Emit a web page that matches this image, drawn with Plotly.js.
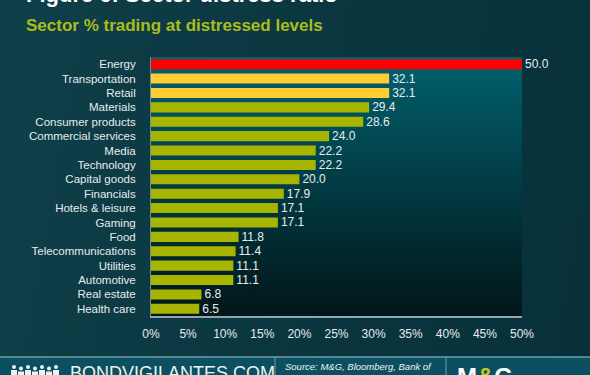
<!DOCTYPE html>
<html>
<head>
<meta charset="utf-8">
<script src="https://cdn.plot.ly/plotly-3.0.1.min.js"></script>
<style>
  html, body { margin: 0; padding: 0; }
  body { width: 590px; height: 375px; overflow: hidden;
         background: linear-gradient(100deg, #0f4049 0%, #0b3741 45%, #07303a 100%); }
  #chart { width: 590px; height: 375px; }
</style>
</head>
<body>
<div id="chart"></div>
<script>
// ---- data ----
const sectors = ["Energy", "Transportation", "Retail", "Materials", "Consumer products",
  "Commercial services", "Media", "Technology", "Capital goods", "Financials",
  "Hotels & leisure", "Gaming", "Food", "Telecommunications", "Utilities",
  "Automotive", "Real estate", "Health care"];
const distressPct = [50.0, 32.1, 32.1, 29.4, 28.6, 24.0, 22.2, 22.2, 20.0, 17.9,
  17.1, 17.1, 11.8, 11.4, 11.1, 11.1, 6.8, 6.5];
const xTickVals = [0, 5, 10, 15, 20, 25, 30, 35, 40, 45, 50];
const xTickText = ["0%", "5%", "10%", "15%", "20%", "25%", "30%", "35%", "40%", "45%", "50%"];
const titleText = "Figure 6: Sector distress ratio";
const subtitleText = "Sector % trading at distressed levels";
const sourceText = "Source: M&G, Bloomberg, Bank of";
const siteText = "BONDVIGILANTES.COM";

// ---- styling ----
const RED = "#ff0000", GOLD = "#ffcc33", OLIVE = "#a8b500";
const barColors = distressPct.map((v, i) => i === 0 ? RED : (i < 3 ? GOLD : OLIVE));
const FONT = "Liberation Sans, Arial, sans-serif";

const gradSvg = '<svg xmlns="http://www.w3.org/2000/svg" width="100" height="100" preserveAspectRatio="none">' +
  '<defs><linearGradient id="g" x1="0" y1="0" x2="0" y2="1">' +
  '<stop offset="0" stop-color="#01616e"/><stop offset="0.45" stop-color="#013e47"/>' +
  '<stop offset="1" stop-color="#011619"/></linearGradient></defs>' +
  '<rect width="100" height="100" fill="url(#g)"/></svg>';
const gradUri = "data:image/svg+xml;base64," + btoa(gradSvg);

const trace = {
  type: "bar",
  orientation: "h",
  x: distressPct,
  y: sectors,
  width: 0.7,
  marker: { color: barColors, line: { width: 0 } },
  text: distressPct.map(v => v.toFixed(1)),
  textposition: "outside",
  constraintext: "none",
  textfont: { family: FONT, size: 12, color: "#e8eef0" },
  cliponaxis: false,
  hoverinfo: "none"
};

const W = 590, H = 375;
const L = 151, R = 68, T = 57, B = 59;
const pw = W - L - R, ph = H - T - B;
function px2x(px) { return (px - L) / pw; }
function py2y(py) { return (H - B - py) / ph; }
const shapes = [];
// footer band
shapes.push({ type: "rect", xref: "paper", yref: "paper", x0: px2x(0), x1: px2x(W), y0: py2y(H + 2), y1: py2y(357),
  fillcolor: "#0b5060", line: { width: 0 }, layer: "below" });
shapes.push({ type: "line", xref: "paper", yref: "paper", x0: px2x(0), x1: px2x(W), y0: py2y(357), y1: py2y(357),
  line: { color: "#6f9ea8", width: 1.5 } });
shapes.push({ type: "line", xref: "paper", yref: "paper", x0: px2x(275), x1: px2x(275), y0: py2y(357), y1: py2y(H),
  line: { color: "#6f9ea8", width: 1 } });
shapes.push({ type: "line", xref: "paper", yref: "paper", x0: px2x(446), x1: px2x(446), y0: py2y(357), y1: py2y(H),
  line: { color: "#6f9ea8", width: 1 } });
// little people icon (decoration)
const heads = [14, 21, 28, 35, 42, 49, 56];
heads.forEach((hx, i) => {
  const top = 365 + (i % 2) * 1.5;
  shapes.push({ type: "circle", xref: "paper", yref: "paper",
    x0: px2x(hx - 2), x1: px2x(hx + 2), y0: py2y(top + 4), y1: py2y(top),
    fillcolor: "#f0f0f0", line: { width: 0 } });
  shapes.push({ type: "rect", xref: "paper", yref: "paper",
    x0: px2x(hx - 3), x1: px2x(hx + 3), y0: py2y(H + 2), y1: py2y(top + 5),
    fillcolor: "#f0f0f0", line: { width: 0 } });
});

const layout = {
  width: W, height: H,
  margin: { l: L, r: R, t: T, b: B, pad: 0 },
  paper_bgcolor: "rgba(0,0,0,0)",
  plot_bgcolor: "rgba(0,0,0,0)",
  showlegend: false,
  bargap: 0.3,
  xaxis: {
    range: [0, 50],
    tickvals: xTickVals, ticktext: xTickText,
    tickfont: { family: FONT, size: 12, color: "#e6ecee" },
    showgrid: false, zeroline: false,
    showline: true, linecolor: "#8fa7ad", linewidth: 2,
    ticks: "", ticklabelstandoff: 6, fixedrange: true
  },
  yaxis: {
    autorange: "reversed",
    tickfont: { family: FONT, size: 11.5, color: "#e6ecee" },
    showgrid: false, zeroline: false,
    showline: true, linecolor: "#6f8f96", linewidth: 1,
    ticks: "", ticklabelstandoff: 12, fixedrange: true
  },
  images: [{
    source: gradUri, xref: "paper", yref: "paper",
    x: 0, y: 1, sizex: 1, sizey: 1, xanchor: "left", yanchor: "top",
    sizing: "stretch", layer: "below"
  }],
  shapes: shapes,
  annotations: [
    { text: "<b>" + titleText + "</b>", xref: "paper", yref: "paper",
      x: px2x(24), y: py2y(-6), xanchor: "left", yanchor: "middle", showarrow: false,
      font: { family: FONT, size: 22, color: "#ffffff" } },
    { text: "<b>" + subtitleText + "</b>", xref: "paper", yref: "paper",
      x: px2x(24), y: py2y(25), xanchor: "left", yanchor: "middle", showarrow: false,
      font: { family: FONT, size: 17, color: "#a9bd1c" } },
    { text: siteText, xref: "paper", yref: "paper",
      x: px2x(68), y: py2y(373), xanchor: "left", yanchor: "middle", showarrow: false,
      font: { family: FONT, size: 18, color: "#eef2f3" } },
    { text: "<i>" + sourceText + "</i>", xref: "paper", yref: "paper",
      x: px2x(283), y: py2y(366), xanchor: "left", yanchor: "middle", showarrow: false,
      font: { family: FONT, size: 9.5, color: "#f0f0f0" } },
    { text: "<b>M<span style='color:#c8c81e'>&amp;</span>G</b>", xref: "paper", yref: "paper",
      x: px2x(455), y: py2y(376), xanchor: "left", yanchor: "middle", showarrow: false,
      font: { family: FONT, size: 24, color: "#ffffff" } }
  ]
};

Plotly.newPlot("chart", [trace], layout, { displayModeBar: false, staticPlot: true });
</script>
</body>
</html>
